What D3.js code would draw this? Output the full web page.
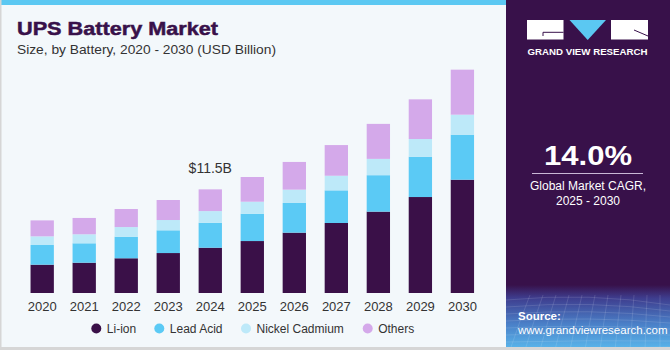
<!DOCTYPE html>
<html><head><meta charset="utf-8">
<script src="https://cdn.jsdelivr.net/npm/d3@7"></script>
<style>html,body{margin:0;padding:0;background:#fff;}svg{display:block;}</style>
</head><body>
<script>
const years = ["2020","2021","2022","2023","2024","2025","2026","2027","2028","2029","2030"];
const liIon = [3.14,3.36,3.85,4.43,5.02,5.76,6.69,7.76,9.02,10.64,12.56];
const leadAcid = [2.18,2.15,2.39,2.52,2.77,3.03,3.29,3.62,4.04,4.47,4.99];
const nickelCadmium = [0.96,1.00,1.07,1.14,1.29,1.33,1.48,1.62,1.81,1.96,2.22];
const others = [1.77,1.81,2.00,2.22,2.41,2.74,3.07,3.40,3.88,4.40,4.99];
const seriesNames = ["Li-ion","Lead Acid","Nickel Cadmium","Others"];
const seriesColors = ["#3a1048","#5bcaf5","#bde9f9","#d4a9ea"];
const annotationYear = "2024";
const annotationText = "$11.5B";

const W = 670, H = 350;
const svg = d3.select("body").append("svg").attr("width", W).attr("height", H);
const font = "'Liberation Sans', Arial, sans-serif";

// backgrounds
svg.append("rect").attr("x",0).attr("y",0).attr("width",W).attr("height",H).attr("fill","#f3f8fb");
svg.append("rect").attr("x",0).attr("y",0).attr("width",506).attr("height",5).attr("fill","#5bc8f2");
svg.append("rect").attr("x",506).attr("y",0).attr("width",164).attr("height",H).attr("fill","#38114a");
const defs = svg.append("defs");
const g1 = defs.append("linearGradient").attr("id","srcg").attr("x1",0).attr("y1",0).attr("x2",0).attr("y2",1);
g1.append("stop").attr("offset","0%").attr("stop-color","#38114a");
g1.append("stop").attr("offset","20%").attr("stop-color","#3e3d8e");
g1.append("stop").attr("offset","60%").attr("stop-color","#4a80c8");
g1.append("stop").attr("offset","100%").attr("stop-color","#5ab8ec");
svg.append("rect").attr("x",506).attr("y",285).attr("width",164).attr("height",65).attr("fill","url(#srcg)");
// faint grid lines on source area
const gl = svg.append("g").attr("stroke","#ffffff").attr("stroke-opacity",0.12).attr("fill","none");
for (let i=0;i<8;i++){ gl.append("path").attr("d",`M506,${300+i*7} Q590,${292+i*8} 670,${305+i*6}`); }
for (let i=0;i<12;i++){ gl.append("path").attr("d",`M${510+i*15},350 Q${520+i*14},320 ${530+i*13},295`); }
// borders
svg.append("rect").attr("x",0).attr("y",0).attr("width",1.5).attr("height",H).attr("fill","#d6d6d6");
svg.append("rect").attr("x",0).attr("y",347).attr("width",W).attr("height",3).attr("fill","#d6d6d6");

// title
svg.append("text").attr("x",17).attr("y",35).text("UPS Battery Market")
  .attr("font-family",font).attr("font-weight","bold").attr("font-size",19)
  .attr("textLength",201).attr("lengthAdjust","spacingAndGlyphs")
  .attr("stroke","#38114a").attr("stroke-width",0.5).attr("fill","#38114a");
svg.append("text").attr("x",17).attr("y",54).text("Size, by Battery, 2020 - 2030 (USD Billion)")
  .attr("font-family",font).attr("font-size",13).attr("fill","#333")
  .attr("textLength",259).attr("lengthAdjust","spacingAndGlyphs");

// logo
svg.append("rect").attr("x",527).attr("y",20).attr("width",36.5).attr("height",19.5).attr("fill","#fff");
svg.append("path").attr("d","M543,32.3 H563.5 M543,32.3 V36").attr("stroke","#38114a").attr("stroke-width",1).attr("fill","none");
svg.append("path").attr("d","M569.5,20 H606 L587.7,40 Z").attr("fill","#5bc8f2");
svg.append("rect").attr("x",611).attr("y",20).attr("width",37).attr("height",19.5).attr("fill","#fff");
svg.append("path").attr("d","M634,30 L648,36").attr("stroke","#38114a").attr("stroke-width",1).attr("fill","none");
svg.append("text").attr("x",587.5).attr("y",55).attr("text-anchor","middle").text("GRAND VIEW RESEARCH")
  .attr("font-family",font).attr("font-weight","bold").attr("font-size",8.6).attr("fill","#fff")
  .attr("textLength",120).attr("lengthAdjust","spacingAndGlyphs");

// CAGR
svg.append("text").attr("x",588).attr("y",165).attr("text-anchor","middle").text("14.0%")
  .attr("font-family",font).attr("font-weight","bold").attr("font-size",28).attr("fill","#fff")
  .attr("textLength",88).attr("lengthAdjust","spacingAndGlyphs");
svg.append("line").attr("x1",532).attr("x2",643).attr("y1",173.5).attr("y2",173.5).attr("stroke","#c9b8d6").attr("stroke-width",1);
svg.append("text").attr("x",588).attr("y",190).attr("text-anchor","middle").text("Global Market CAGR,")
  .attr("font-family",font).attr("font-size",12).attr("fill","#fff");
svg.append("text").attr("x",588).attr("y",205).attr("text-anchor","middle").text("2025 - 2030")
  .attr("font-family",font).attr("font-size",12).attr("fill","#fff");

// source
svg.append("text").attr("x",518).attr("y",320).text("Source:")
  .attr("font-family",font).attr("font-weight","bold").attr("font-size",11.5).attr("fill","#fff");
svg.append("text").attr("x",518).attr("y",334).text("www.grandviewresearch.com")
  .attr("font-family",font).attr("font-size",11.5).attr("fill","#fff");

// chart
const x = d3.scaleBand().domain(years).range([21.3, 483.3]).paddingInner(0.445).paddingOuter(0.22);
const y = d3.scaleLinear().domain([0,25]).range([293, 67.5]);
const rows = years.map((yr,i)=>({year:yr, "Li-ion":liIon[i], "Lead Acid":leadAcid[i], "Nickel Cadmium":nickelCadmium[i], "Others":others[i]}));
const stack = d3.stack().keys(seriesNames)(rows);
const color = d3.scaleOrdinal().domain(seriesNames).range(seriesColors);

svg.append("g").selectAll("g").data(stack).join("g").attr("fill", d=>color(d.key))
  .selectAll("rect").data(d=>d).join("rect")
  .attr("x", d=>x(d.data.year)).attr("width", x.bandwidth())
  .attr("y", d=>y(d[1])).attr("height", d=>y(d[0])-y(d[1]));

// x axis
const xAxis = svg.append("g").attr("transform","translate(0,293)")
  .call(d3.axisBottom(x).tickSize(0).tickPadding(9));
xAxis.select(".domain").remove();
xAxis.selectAll("text").attr("font-family",font).attr("font-size",13).attr("fill","#333");

// annotation
const annIdx = years.indexOf(annotationYear);
const annTotal = liIon[annIdx]+leadAcid[annIdx]+nickelCadmium[annIdx]+others[annIdx];
svg.append("text").attr("x", x(annotationYear)+x.bandwidth()/2).attr("y", y(annTotal)-16.5)
  .attr("text-anchor","middle").text(annotationText)
  .attr("font-family",font).attr("font-size",14).attr("fill","#333");

// legend
const legX = [96.3, 159.3, 246, 367.7];
const leg = svg.append("g");
seriesNames.forEach((n,i)=>{
  leg.append("circle").attr("cx",legX[i]).attr("cy",328.5).attr("r",5).attr("fill",seriesColors[i]);
  leg.append("text").attr("x",legX[i]+10.5).attr("y",332.8).text(n)
    .attr("font-family",font).attr("font-size",12).attr("fill","#333");
});
</script>
</body></html>
